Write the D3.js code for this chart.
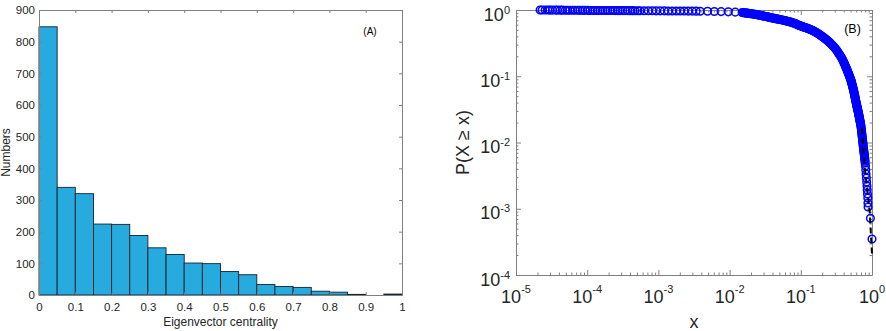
<!DOCTYPE html>
<html>
<head>
<meta charset="utf-8">
<script src="https://cdn.jsdelivr.net/npm/d3@7"></script>
<style>
  body { margin: 0; background: #fff; }
  svg { display: block; font-family: "Liberation Sans", Arial, sans-serif; }
  .domain { stroke: #808080; }
  .tick line { stroke: #808080; }
  .tick text { fill: #262626; }
</style>
</head>
<body>
<div id="chart"></div>
<script>
const W = 886, H = 331;

// (A) histogram, bins of width 0.05
const binStart = [0, 0.05, 0.1, 0.15, 0.2, 0.25, 0.3, 0.35, 0.4, 0.45,
  0.5, 0.55, 0.6, 0.65, 0.7, 0.75, 0.8, 0.85, 0.9, 0.95];
const binCount = [847, 340, 320, 224, 223, 188, 149, 128, 101, 99,
  74, 64, 33, 27, 24, 12, 9, 2, 0, 3];
const histXTicks = [0, 0.1, 0.2, 0.3, 0.4, 0.5, 0.6, 0.7, 0.8, 0.9, 1];
const histYTicks = [0, 100, 200, 300, 400, 500, 600, 700, 800, 900];

// (B) complementary cumulative distribution
const ccdfX = [
  // flat part
  2.18e-5, 2.33e-5, 2.57e-5, 2.80e-5, 2.99e-5, 3.25e-5, 3.57e-5, 3.82e-5, 4.18e-5, 4.49e-5,
  4.93e-5, 5.28e-5, 5.71e-5, 6.27e-5, 6.74e-5, 7.38e-5, 7.91e-5, 8.66e-5, 9.31e-5, 1.02e-4,
  1.09e-4, 1.20e-4, 1.28e-4, 1.41e-4, 1.51e-4, 1.66e-4, 1.78e-4, 1.95e-4, 2.09e-4, 2.30e-4,
  2.45e-4, 2.70e-4, 2.88e-4, 3.17e-4, 3.40e-4, 3.72e-4, 3.99e-4, 4.38e-4, 4.70e-4, 5.14e-4,
  5.52e-4,
  6.3e-4, 7.2e-4, 8.2e-4, 9.3e-4, 1.06e-3, 1.21e-3, 1.37e-3, 1.56e-3, 1.78e-3, 2.02e-3,
  2.30e-3, 2.62e-3, 2.98e-3, 3.39e-3, 3.86e-3,
  4.9e-3, 6.1e-3, 7.6e-3, 9.6e-3, 0.012,
  // bend
  0.015, 0.0155, 0.016, 0.0165, 0.017, 0.0175, 0.018, 0.0185, 0.019, 0.0195,
  0.020, 0.0207, 0.0215, 0.0222, 0.023, 0.0237, 0.0245, 0.0252, 0.026, 0.027,
  0.028, 0.029, 0.030, 0.031, 0.032, 0.033, 0.034, 0.035, 0.036, 0.037,
  0.038, 0.0395, 0.041, 0.0425, 0.044, 0.0455, 0.047, 0.0485, 0.050, 0.0515,
  0.053, 0.055, 0.057, 0.059, 0.061, 0.063, 0.065, 0.067, 0.069, 0.0715,
  0.074, 0.0765, 0.079, 0.0815, 0.084, 0.087, 0.090, 0.093, 0.096, 0.098,
  0.100, 0.103, 0.106, 0.109, 0.112, 0.115, 0.118, 0.1215, 0.125, 0.1285,
  0.132, 0.136, 0.140, 0.144, 0.148, 0.152, 0.156, 0.1605, 0.165, 0.1695,
  0.174, 0.179, 0.184, 0.189, 0.194, 0.1995, 0.205, 0.2105, 0.216, 0.222,
  0.228, 0.234, 0.240, 0.2465, 0.253, 0.2595, 0.266, 0.273, 0.280, 0.287,
  0.294, 0.301, 0.308, 0.3155, 0.323, 0.3305, 0.338, 0.3455, 0.353, 0.3605,
  0.368, 0.376, 0.384, 0.392, 0.400, 0.405, 0.41, 0.415, 0.42, 0.425,
  0.43, 0.435, 0.44, 0.445, 0.45, 0.455, 0.46, 0.465, 0.47, 0.475,
  0.48, 0.485, 0.49, 0.495, 0.50,
  // steep drop
  0.5035, 0.507, 0.5105, 0.514, 0.5175, 0.521, 0.5245, 0.528, 0.5315, 0.535,
  0.5385, 0.542, 0.5455, 0.549, 0.5525, 0.556, 0.5595, 0.563, 0.5665, 0.570,
  0.5735, 0.577, 0.5805, 0.584, 0.5875, 0.591, 0.5945, 0.598, 0.6015, 0.605,
  0.6085, 0.612, 0.6155, 0.619, 0.6225, 0.626, 0.6295, 0.633, 0.6365, 0.640,
  0.6435, 0.647, 0.6505, 0.654, 0.6575, 0.661, 0.6645, 0.668, 0.6715, 0.675,
  0.6785, 0.682, 0.6855, 0.689, 0.6925, 0.696, 0.6995, 0.703, 0.7065, 0.710,
  0.7135, 0.717, 0.7205, 0.724, 0.7275, 0.731, 0.7345, 0.738, 0.7415, 0.745,
  0.7485, 0.752, 0.7555, 0.759, 0.7625, 0.766, 0.7695, 0.773, 0.7765, 0.780,
  0.7835, 0.787, 0.7905, 0.794, 0.798, 0.802,
  // tail
  0.810, 0.818, 0.826, 0.834, 0.842, 0.851, 0.856, 0.864, 0.873, 0.876,
  0.880, 0.950, 1.0
];
const ccdfP = [
  1.000, 0.999, 0.998, 0.998, 0.997, 0.996, 0.996, 0.995, 0.994, 0.994,
  0.993, 0.992, 0.991, 0.990, 0.990, 0.989, 0.988, 0.987, 0.987, 0.986,
  0.985, 0.985, 0.984, 0.984, 0.983, 0.983, 0.982, 0.982, 0.981, 0.981,
  0.980, 0.980, 0.979, 0.979, 0.978, 0.978, 0.977, 0.977, 0.976, 0.976,
  0.975,
  0.974, 0.973, 0.972, 0.971, 0.970, 0.969, 0.968, 0.967, 0.966, 0.965,
  0.964, 0.963, 0.961, 0.960, 0.958,
  0.955, 0.951, 0.946, 0.938, 0.928,
  0.915, 0.911, 0.908, 0.904, 0.900, 0.896, 0.893, 0.889, 0.886, 0.882,
  0.879, 0.874, 0.869, 0.864, 0.859, 0.853, 0.848, 0.843, 0.838, 0.830,
  0.823, 0.816, 0.810, 0.804, 0.798, 0.792, 0.787, 0.781, 0.776, 0.771,
  0.766, 0.759, 0.753, 0.747, 0.741, 0.735, 0.730, 0.726, 0.722, 0.717,
  0.713, 0.706, 0.700, 0.694, 0.688, 0.682, 0.676, 0.670, 0.664, 0.657,
  0.650, 0.643, 0.636, 0.629, 0.622, 0.611, 0.600, 0.592, 0.585, 0.579,
  0.573, 0.567, 0.561, 0.555, 0.550, 0.544, 0.539, 0.533, 0.527, 0.521,
  0.515, 0.508, 0.502, 0.494, 0.487, 0.480, 0.473, 0.465, 0.457, 0.449,
  0.442, 0.433, 0.425, 0.416, 0.408, 0.399, 0.391, 0.383, 0.375, 0.366,
  0.358, 0.350, 0.342, 0.333, 0.325, 0.316, 0.308, 0.299, 0.290, 0.282,
  0.275, 0.267, 0.259, 0.250, 0.242, 0.233, 0.225, 0.217, 0.210, 0.202,
  0.195, 0.187, 0.180, 0.172, 0.164, 0.159, 0.155, 0.150, 0.146, 0.141,
  0.137, 0.133, 0.130, 0.126, 0.122, 0.118, 0.115, 0.111, 0.108, 0.105,
  0.102, 0.099, 0.096, 0.093, 0.091,
  0.0886, 0.0863, 0.0840, 0.0818, 0.0796, 0.0775, 0.0755, 0.0735, 0.0716, 0.0697,
  0.0679, 0.0661, 0.0643, 0.0625, 0.0606, 0.0587, 0.0569, 0.0552, 0.0535, 0.0518,
  0.0502, 0.0486, 0.0471, 0.0456, 0.0442, 0.0428, 0.0415, 0.0402, 0.0390, 0.0379,
  0.0369, 0.0360, 0.0350, 0.0341, 0.0332, 0.0324, 0.0315, 0.0306, 0.0298, 0.0290,
  0.0282, 0.0275, 0.0267, 0.0260, 0.0252, 0.0245, 0.0238, 0.0231, 0.0224, 0.0218,
  0.0212, 0.0206, 0.0200, 0.0194, 0.0188, 0.0183, 0.0176, 0.0170, 0.0162, 0.0155,
  0.0148, 0.0142, 0.0135, 0.0129, 0.0123, 0.0118, 0.0113, 0.0108, 0.0103, 0.0098,
  0.0094, 0.0090, 0.0086, 0.0083, 0.0079, 0.0076, 0.0073, 0.0070, 0.0067, 0.0065,
  0.0062, 0.0060, 0.0057, 0.0055, 0.0052, 0.0049,
  0.00442, 0.00385, 0.00335, 0.00291, 0.00254, 0.00220, 0.00192, 0.00167, 0.00145, 0.00122,
  0.00106, 0.00072, 0.00035
];
// dashed tail line
const fitX = [0.723, 0.79, 0.93, 1.0];
const fitP = [0.0166, 0.0042, 0.00088, 0.000207];
const logXTicks = [1e-5, 1e-4, 1e-3, 1e-2, 1e-1, 1];
const logYTicks = [1e-4, 1e-3, 1e-2, 1e-1, 1];

const textColor = "#262626";

const svg = d3
  .select("#chart")
  .append("svg")
  .attr("width", W)
  .attr("height", H);

// ---------- panel A ----------
const boxA = { left: 39, right: 402, top: 10, bottom: 295 };
const binWidth = 0.05;
const xA = d3.scaleLinear().domain([0, 1]).range([boxA.left, boxA.right]);
const yA = d3.scaleLinear().domain([0, 900]).range([boxA.bottom, boxA.top]);

svg
  .append("g")
  .selectAll("rect")
  .data(binStart)
  .enter()
  .append("rect")
  .attr("x", (d) => xA(d))
  .attr("width", (d) => xA(d + binWidth) - xA(d))
  .attr("y", (d, i) => yA(binCount[i]))
  .attr("height", (d, i) => yA(0) - yA(binCount[i]))
  .attr("fill", "#27abdf")
  .attr("stroke", "#16232c")
  .attr("stroke-width", 0.9);

const axA = (g, fs) => g.attr("font-size", fs).attr("font-family", null);

svg
  .append("g")
  .attr("transform", `translate(0,${boxA.bottom})`)
  .call(
    d3.axisBottom(xA).tickValues(histXTicks).tickSizeInner(-3).tickSizeOuter(0)
      .tickPadding(8).tickFormat(d3.format("~g"))
  )
  .call(axA, 11.5);

svg
  .append("g")
  .attr("transform", `translate(${boxA.left},0)`)
  .call(
    d3.axisLeft(yA).tickValues(histYTicks).tickSizeInner(-3).tickSizeOuter(0)
      .tickPadding(4)
  )
  .call(axA, 11.5);

svg
  .append("g")
  .attr("transform", `translate(0,${boxA.top})`)
  .call(d3.axisTop(xA).tickValues(histXTicks).tickSizeInner(-3).tickSizeOuter(0).tickFormat(""));

svg
  .append("g")
  .attr("transform", `translate(${boxA.right},0)`)
  .call(d3.axisRight(yA).tickValues(histYTicks).tickSizeInner(-3).tickSizeOuter(0).tickFormat(""));

svg
  .append("text")
  .attr("x", (boxA.left + boxA.right) / 2)
  .attr("y", 326)
  .attr("text-anchor", "middle")
  .attr("font-size", 12)
  .attr("fill", textColor)
  .text("Eigenvector centrality");

svg
  .append("text")
  .attr("transform", `translate(10,${(boxA.top + boxA.bottom) / 2}) rotate(-90)`)
  .attr("text-anchor", "middle")
  .attr("font-size", 12)
  .attr("fill", textColor)
  .text("Numbers");

svg
  .append("text")
  .attr("x", 370)
  .attr("y", 35)
  .attr("text-anchor", "middle")
  .attr("font-size", 10)
  .attr("fill", "#000")
  .text("(A)");

// ---------- panel B ----------
const boxB = { left: 516, right: 872, top: 10, bottom: 275 };
const xB = d3.scaleLog().domain([1e-5, 1]).range([boxB.left, boxB.right]);
const yB = d3.scaleLog().domain([1e-4, 1]).range([boxB.bottom, boxB.top]);

const isMajor = (d) => Math.abs(Math.log10(d) - Math.round(Math.log10(d))) < 1e-9;
const tickLen = (d) => (isMajor(d) ? 5 : 2.5);

// log axes, minor ticks shorter than decades
const logAxis = (axisFn, scale, pos, horizontal, sign) => {
  const g = svg
    .append("g")
    .attr("transform", horizontal ? `translate(0,${pos})` : `translate(${pos},0)`)
    .call(axisFn(scale).tickValues(scale.ticks()).tickSizeOuter(0).tickFormat(""));
  g.selectAll(".tick line")
    .attr(horizontal ? "y2" : "x2", (d) => sign * tickLen(d));
};
logAxis(d3.axisBottom, xB, boxB.bottom, true, -1);
logAxis(d3.axisTop, xB, boxB.top, true, 1);
logAxis(d3.axisLeft, yB, boxB.left, false, 1);
logAxis(d3.axisRight, yB, boxB.right, false, -1);

const xLab = svg
  .append("g")
  .selectAll("text")
  .data(logXTicks)
  .enter()
  .append("text")
  .attr("x", (d) => xB(d))
  .attr("y", 303)
  .attr("text-anchor", "middle")
  .attr("font-size", 18)
  .attr("fill", textColor);
xLab.append("tspan").text("10");
xLab
  .append("tspan")
  .attr("dy", -10)
  .attr("font-size", 11)
  .text((d) => String(Math.round(Math.log10(d))));

const yLab = svg
  .append("g")
  .selectAll("text")
  .data(logYTicks)
  .enter()
  .append("text")
  .attr("x", 510)
  .attr("y", (d) => yB(d) + 10.5)
  .attr("text-anchor", "end")
  .attr("font-size", 18)
  .attr("fill", textColor);
yLab.append("tspan").text("10");
yLab
  .append("tspan")
  .attr("dy", -7)
  .attr("font-size", 11)
  .text((d) => String(Math.round(Math.log10(d))));

// open circle markers
svg
  .append("g")
  .selectAll("circle")
  .data(ccdfX)
  .enter()
  .append("circle")
  .attr("cx", (d) => xB(d))
  .attr("cy", (d, i) => yB(ccdfP[i]))
  .attr("r", 3.8)
  .attr("fill", "none")
  .attr("stroke", "#0000ff")
  .attr("stroke-width", 1.5);

svg
  .append("path")
  .datum(fitX)
  .attr("fill", "none")
  .attr("stroke", "#000")
  .attr("stroke-width", 2)
  .attr("stroke-dasharray", "6,4")
  .attr("d", d3.line().x((d) => xB(d)).y((d, i) => yB(fitP[i])));

svg
  .append("text")
  .attr("x", (boxB.left + boxB.right) / 2)
  .attr("y", 328)
  .attr("text-anchor", "middle")
  .attr("font-size", 18)
  .attr("fill", textColor)
  .text("x");

svg
  .append("text")
  .attr("transform", `translate(469,${(boxB.top + boxB.bottom) / 2}) rotate(-90)`)
  .attr("text-anchor", "middle")
  .attr("font-size", 18)
  .attr("fill", textColor)
  .text("P(X \u2265 x)");

svg
  .append("text")
  .attr("x", 852.5)
  .attr("y", 33)
  .attr("text-anchor", "middle")
  .attr("font-size", 12.5)
  .attr("fill", "#000")
  .text("(B)");
</script>
</body>
</html>
